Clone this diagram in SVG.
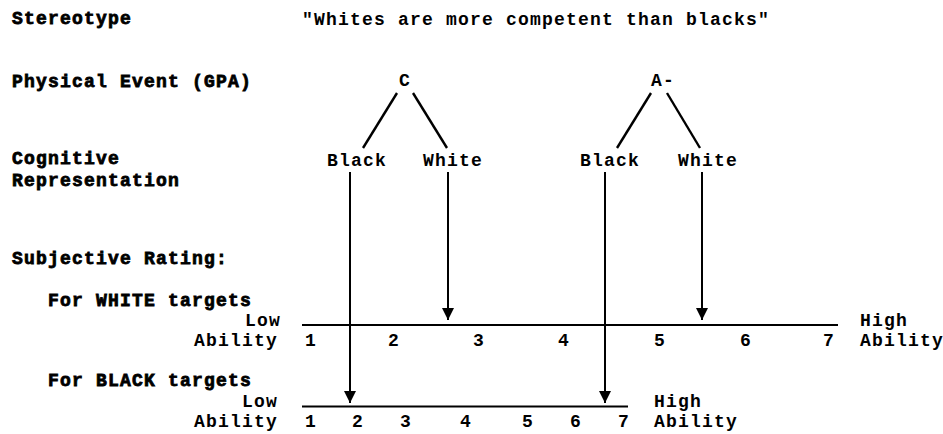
<svg xmlns="http://www.w3.org/2000/svg" width="943" height="434" viewBox="0 0 943 434">
<style>
text{font-family:"Liberation Mono","Courier New",monospace;font-size:18px;letter-spacing:1.2px;font-weight:bold;fill:#000}
.hd{stroke:#000;stroke-width:0.8}
.ln{stroke:#000;stroke-width:2;fill:none}
.dg{stroke:#000;stroke-width:2.4;fill:none}
</style>
<defs>
<marker id="tri" viewBox="0 0 12 12" refX="12" refY="6" markerWidth="12" markerHeight="12" markerUnits="userSpaceOnUse" orient="auto">
<path d="M0,0 L12,6 L0,12 Z" fill="#000"/>
</marker>
</defs>
<g id="labels">
<text class="hd" x="12" y="24">Stereotype</text>
<text class="hd" x="12" y="87">Physical Event (GPA)</text>
<text class="hd" x="12" y="164">Cognitive</text>
<text class="hd" x="12" y="186">Representation</text>
<text class="hd" x="12" y="264">Subjective Rating:</text>
<text class="hd" x="48" y="306">For WHITE targets</text>
<text class="hd" x="48" y="386">For BLACK targets</text>
</g>
<g id="stereotype"><text x="302" y="25">"Whites are more competent than blacks"</text></g>
<g id="eventC"><text x="399" y="86">C</text></g>
<g id="eventA"><text x="651" y="86">A-</text></g>
<g id="black1"><text x="327" y="166">Black</text></g>
<g id="white1"><text x="423" y="166">White</text></g>
<g id="black2"><text x="580" y="166">Black</text></g>
<g id="white2"><text x="678" y="166">White</text></g>
<g id="whiteScale">
<line class="ln" x1="302" y1="325" x2="838" y2="325"/>
<text x="245" y="326">Low</text>
<text x="194" y="346">Ability</text>
<text x="305" y="346">1</text>
<text x="388" y="346">2</text>
<text x="473" y="346">3</text>
<text x="558" y="346">4</text>
<text x="654" y="346">5</text>
<text x="740" y="346">6</text>
<text x="823" y="346">7</text>
<text x="860" y="326">High</text>
<text x="860" y="346">Ability</text>
</g>
<g id="blackScale">
<line class="ln" x1="302" y1="406.5" x2="628" y2="406.5"/>
<text x="242" y="407">Low</text>
<text x="194" y="427">Ability</text>
<text x="305" y="427">1</text>
<text x="352" y="427">2</text>
<text x="400" y="427">3</text>
<text x="460" y="427">4</text>
<text x="522" y="427">5</text>
<text x="570" y="427">6</text>
<text x="618" y="427">7</text>
<text x="654" y="407">High</text>
<text x="654" y="427">Ability</text>
</g>
<g id="connectors">
<line class="dg" x1="397" y1="93" x2="363" y2="148"/>
<line class="dg" x1="413" y1="93" x2="447" y2="148"/>
<line class="dg" x1="651" y1="93" x2="617" y2="148"/>
<line class="dg" x1="667" y1="93" x2="700" y2="148"/>
<line class="ln" x1="350" y1="172" x2="350" y2="403" marker-end="url(#tri)"/>
<line class="ln" x1="448" y1="172" x2="448" y2="320" marker-end="url(#tri)"/>
<line class="ln" x1="605" y1="172" x2="605" y2="403" marker-end="url(#tri)"/>
<line class="ln" x1="702" y1="172" x2="702" y2="320" marker-end="url(#tri)"/>
</g>
</svg>
